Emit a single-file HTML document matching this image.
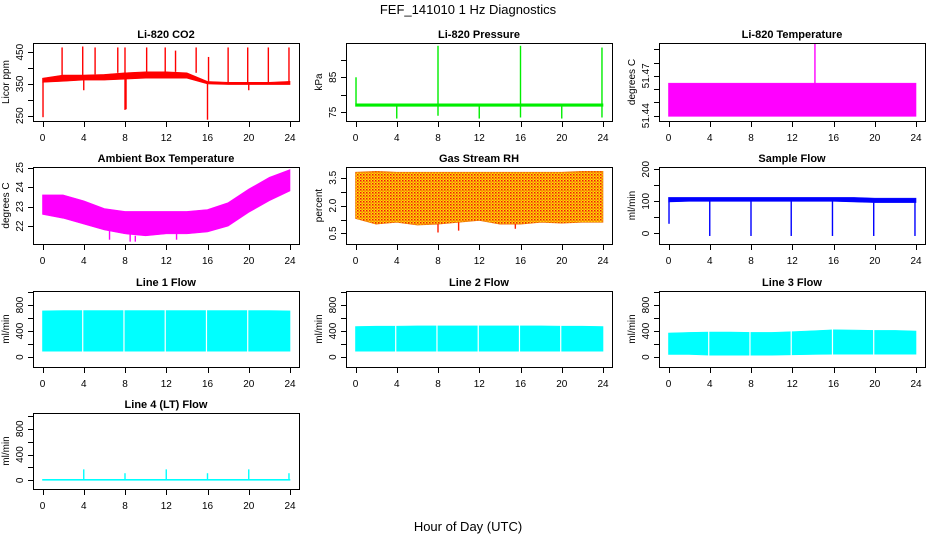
<!DOCTYPE html>
<html><head><meta charset="utf-8">
<style>
html,body{margin:0;padding:0;background:#fff;}
svg{display:block;font-family:"Liberation Sans",Arial,sans-serif;}
</style></head>
<body>
<svg id="chart" width="936" height="540" viewBox="0 0 936 540" xmlns="http://www.w3.org/2000/svg">
<defs>
<pattern id="rhpat" width="3" height="3" patternUnits="userSpaceOnUse">
<rect width="3" height="3" fill="#ffe000"/><rect x="0" y="0" width="1.5" height="1.5" fill="#f01010"/><rect x="1.5" y="1.5" width="1.2" height="1.2" fill="#f04010"/>
</pattern>
</defs>
<text x="468" y="14" text-anchor="middle" font-size="13">FEF_141010  1 Hz Diagnostics</text>
<text x="468" y="531" text-anchor="middle" font-size="13">Hour of Day (UTC)</text>
</svg>
<script>
// ---- shared axis data ----
const xTicks = [0,4,8,12,16,20,24];
const bandHours = [0,2,4,6,8,10,12,14,16,18,20,22,24];

// CO2
const co2Lo = [355,358,362,362,365,368,368,368,350,348,348,348,348];
const co2Hi = [368,378,378,380,385,388,388,385,358,355,355,355,358];
const co2SpikeT = [1.9,3.9,5.1,7.3,8.0,8.1,10.1,11.9,12.9,14.9,16.1,18.0,19.9,21.9,23.9];
const co2SpikeV = [465,468,465,465,465,270,465,465,455,465,435,465,465,465,465];
const co2DipT = [0.05,8.0,16.0,4.0,20.0];
const co2DipV = [245,268,237,330,330];

// Pressure
const presLo = [76.7,76.7,76.7,76.7,76.7,76.7,76.7,76.7,76.7,76.7,76.7,76.7,76.7];
const presHi = [77.4,77.4,77.4,77.4,77.4,77.4,77.4,77.4,77.4,77.4,77.4,77.4,77.4];
const presSpikeT = [0.05,8.0,16.0,23.9];
const presSpikeV = [85,94,94,93.5];
const presDipT = [4.0,8.0,12.0,16.0,20.0,23.9];
const presDipV = [73.2,74,73.2,73.5,73.2,73.5];

// Li-820 temperature
const tempLo = [51.4395,51.4395,51.4395,51.4395,51.4395,51.4395,51.4395,51.4395,51.4395,51.4395,51.4395,51.4395,51.4395];
const tempHi = [51.4645,51.4645,51.4645,51.4645,51.4645,51.4645,51.4645,51.4645,51.4645,51.4645,51.4645,51.4645,51.4645];
const tempSpikeT = [14.2];
const tempSpikeV = [51.494];

// Ambient box temperature
const ambLo = [22.6,22.4,22.1,21.8,21.6,21.5,21.6,21.6,21.7,22.0,22.7,23.3,23.8];
const ambHi = [23.6,23.6,23.3,22.9,22.75,22.75,22.75,22.75,22.85,23.2,23.9,24.5,24.9];
const ambDipT = [6.5,8.5,9.0,13.0];
const ambDipV = [21.3,21.2,21.2,21.3];

// Gas stream RH
const rhLo = [1.3,1.0,1.1,0.95,1.0,1.1,1.2,1.0,1.0,1.1,1.05,1.1,1.1];
const rhHi = [3.8,3.85,3.8,3.8,3.8,3.8,3.8,3.8,3.8,3.8,3.8,3.85,3.85];
const rhDipT = [8.0,10.0,15.5];
const rhDipV = [0.55,0.65,0.75];

// Sample flow
const sfLo = [98,100,100,100,100,100,100,100,100,98,96,96,96];
const sfHi = [112,112,112,112,112,112,112,112,112,112,110,110,110];
const sfDipT = [0.05,4.0,8.0,11.9,15.9,19.9,23.9];
const sfDipV = [30,-8,-8,-8,-8,-8,-8];

// Line flows
const l1Lo = [90,90,90,90,90,90,90,90,90,90,90,90,90];
const l1Hi = [710,715,715,715,715,715,715,715,715,715,715,715,710];
const l1GapT = [3.9,7.9,11.9,15.9,19.9];
const l2Lo = [90,90,90,90,90,90,90,90,90,90,90,90,90];
const l2Hi = [470,475,475,480,480,480,480,480,480,480,475,475,470];
const l2GapT = [3.9,7.9,11.9,15.9,19.9];
const l3Lo = [40,40,30,30,30,30,35,40,45,45,45,45,45];
const l3Hi = [370,380,385,385,380,380,390,405,420,415,410,410,400];
const l3GapT = [3.9,7.9,11.9,15.9,19.9];
const l4Lo = [0,0,0,0,0,0,0,0,0,0,0,0,0];
const l4Hi = [15,15,15,15,15,15,15,15,15,15,15,15,15];
const l4SpikeT = [4.0,8.0,12.0,16.0,20.0,23.9];
const l4SpikeV = [170,110,170,110,170,110];

const NS = "http://www.w3.org/2000/svg";
const svg = document.getElementById('chart');
function el(tag, attrs, parent){
  const e = document.createElementNS(NS, tag);
  for (const k in attrs) e.setAttribute(k, attrs[k]);
  (parent||svg).appendChild(e);
  return e;
}
const colLeft = [33,346,659];
const rowTop = [43,167,291,413];
const rowH = [78,77,76,76];
const boxW = 266;

function panel(cfg){
  const L = colLeft[cfg.col], T = rowTop[cfg.row], H = rowH[cfg.row];
  const g = el('g', {});
  
  
  const xs = t => L + 9.5 + t * 247.5 / 24;
  const ys = v => T + H - (v - cfg.ymin) / (cfg.ymax - cfg.ymin) * H;
  const cx = v => Math.round(v) + 0.5;
  if (cfg.lo) {
    let pts = [];
    bandHours.forEach((h,i)=>pts.push(xs(h)+','+ys(cfg.hi[i])));
    for (let i=bandHours.length-1;i>=0;i--) pts.push(xs(bandHours[i])+','+ys(cfg.lo[i]));
    const p = el('polygon', {points: pts.join(' '), fill: cfg.fill || cfg.color, stroke: cfg.color, 'stroke-width': 0.6}, g);
    
    
  }
  if (cfg.spikeT) cfg.spikeT.forEach((t,i)=>{
    const base = cfg.hi[Math.min(12,Math.round(t/2))];
    const l = el('line', {x1: xs(t), x2: xs(t), y1: ys(base), y2: ys(cfg.spikeV[i]), stroke: cfg.spikeColor||cfg.color, 'stroke-width': 1.4}, g);
    
    
  });
  if (cfg.dipT) cfg.dipT.forEach((t,i)=>{
    const base = cfg.lo[Math.min(12,Math.round(t/2))];
    const l = el('line', {x1: xs(t), x2: xs(t), y1: ys(base), y2: ys(cfg.dipV[i]), stroke: cfg.spikeColor||cfg.color, 'stroke-width': 1.4}, g);
    
    
  });
  if (cfg.gapT) cfg.gapT.forEach(t=>{
    const r = el('rect', {x: xs(t)-0.6, y: T+1, width: 1.2, height: H-2, fill: '#fff'}, g);
    
    
  });
  const b = el('rect', {x: L+0.5, y: T+0.5, width: boxW, height: H, fill: 'none', stroke: '#000', 'stroke-width': 1}, g);
  
  
  const tt = el('text', {x: L + boxW/2, y: T - 5, 'text-anchor': 'middle', 'font-size': 11, 'font-weight': 'bold'}, g);
  tt.textContent = cfg.title;
  
  
  xTicks.forEach(t=>{
    el('line', {x1: cx(xs(t)), x2: cx(xs(t)), y1: T+H+1, y2: T+H+6, stroke: '#000', 'stroke-width': 1}, g);
    const tx = el('text', {x: xs(t), y: T+H+20, 'text-anchor': 'middle', 'font-size': 10}, g);
    tx.textContent = t;
    
    
  });
  cfg.ticks.forEach(v=>{
    el('line', {x1: L-5, x2: L, y1: cx(ys(v)), y2: cx(ys(v)), stroke: '#000', 'stroke-width': 1}, g);
  });
  cfg.labels.forEach(v=>{
    const y = ys(v), x = L - 10;
    const tx = el('text', {x: x, y: y, 'text-anchor': 'middle', 'font-size': 10, transform: 'rotate(-90 '+x+' '+y+')'}, g);
    tx.textContent = cfg.labelText ? cfg.labelText(v) : v;
    
    
  });
  const yx = L - 24, yy = T + H/2;
  const yl = el('text', {x: yx, y: yy, 'text-anchor': 'middle', 'font-size': 10, transform: 'rotate(-90 '+yx+' '+yy+')'}, g);
  yl.textContent = cfg.ylab;
  
  
}

panel({name:'co2-panel', title:'Li-820 CO2', ylab:'Licor ppm', row:0, col:0, ymin:233, ymax:479,
  ticks:[250,300,350,400,450], labels:[250,350,450], color:'#ff0000', lo:co2Lo, hi:co2Hi,
  spikeT:co2SpikeT, spikeV:co2SpikeV, dipT:co2DipT, dipV:co2DipV});
panel({name:'pressure-panel', title:'Li-820 Pressure', ylab:'kPa', row:0, col:1, ymin:72.5, ymax:94.8,
  ticks:[75,80,85,90], labels:[75,85], color:'#00ee00', lo:presLo, hi:presHi,
  spikeT:presSpikeT, spikeV:presSpikeV, dipT:presDipT, dipV:presDipV});
panel({name:'li820-temp-panel', title:'Li-820 Temperature', ylab:'degrees C', row:0, col:2, ymin:51.436, ymax:51.4947,
  ticks:[51.44,51.45,51.46,51.47,51.48,51.49], labels:[51.44,51.47], labelText:v=>v.toFixed(2),
  color:'#ff00ff', lo:tempLo, hi:tempHi, spikeT:tempSpikeT, spikeV:tempSpikeV});
panel({name:'ambient-temp-panel', title:'Ambient Box Temperature', ylab:'degrees C', row:1, col:0, ymin:21.08, ymax:25.03,
  ticks:[22,23,24,25], labels:[22,23,24,25], color:'#ff00ff', lo:ambLo, hi:ambHi, dipT:ambDipT, dipV:ambDipV});
panel({name:'gas-rh-panel', title:'Gas Stream RH', ylab:'percent', row:1, col:1, ymin:-0.07, ymax:4.08,
  ticks:[0.5,1.25,2.0,2.75,3.5], labels:[0.5,2.0,3.5], labelText:v=>v.toFixed(1),
  color:'#f07000', fill:'url(#rhpat)', lo:rhLo, hi:rhHi, dipT:rhDipT, dipV:rhDipV, spikeColor:'#ff2000'});
panel({name:'sample-flow-panel', title:'Sample Flow', ylab:'ml/min', row:1, col:2, ymin:-33, ymax:207,
  ticks:[0,50,100,150,200], labels:[0,100,200], color:'#0000ff', lo:sfLo, hi:sfHi, dipT:sfDipT, dipV:sfDipV});
panel({name:'line1-flow-panel', title:'Line 1 Flow', ylab:'ml/min', row:2, col:0, ymin:-152, ymax:1016,
  ticks:[0,200,400,600,800,1000], labels:[0,400,800], color:'#00ffff', lo:l1Lo, hi:l1Hi, gapT:l1GapT});
panel({name:'line2-flow-panel', title:'Line 2 Flow', ylab:'ml/min', row:2, col:1, ymin:-152, ymax:1016,
  ticks:[0,200,400,600,800,1000], labels:[0,400,800], color:'#00ffff', lo:l2Lo, hi:l2Hi, gapT:l2GapT});
panel({name:'line3-flow-panel', title:'Line 3 Flow', ylab:'ml/min', row:2, col:2, ymin:-152, ymax:1016,
  ticks:[0,200,400,600,800,1000], labels:[0,400,800], color:'#00ffff', lo:l3Lo, hi:l3Hi, gapT:l3GapT});
panel({name:'line4-flow-panel', title:'Line 4 (LT) Flow', ylab:'ml/min', row:3, col:0, ymin:-135, ymax:1045,
  ticks:[0,200,400,600,800,1000], labels:[0,400,800], color:'#00ffff', lo:l4Lo, hi:l4Hi, spikeT:l4SpikeT, spikeV:l4SpikeV});
</script>
</body></html>
